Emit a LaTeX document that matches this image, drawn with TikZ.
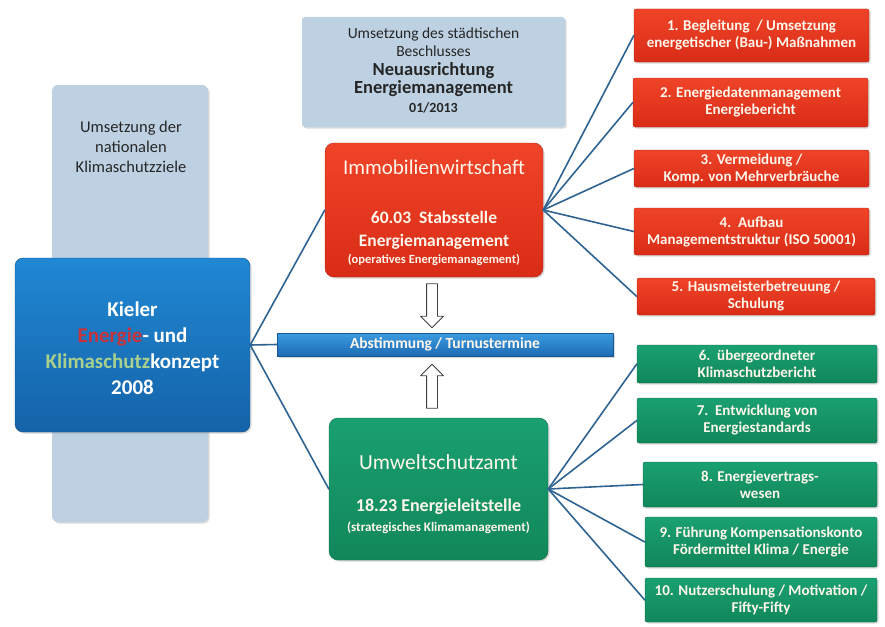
\documentclass[tikz,border=0pt]{standalone}
\usepackage{fontspec}
\setmainfont{Carlito}
\usetikzlibrary{shadows,positioning,shapes.arrows,calc}
\definecolor{redtop}{HTML}{EF4428}
\definecolor{redbot}{HTML}{D92C17}
\definecolor{redline}{HTML}{B52516}
\definecolor{greentop}{HTML}{1AA071}
\definecolor{greenbot}{HTML}{11875A}
\definecolor{greenline}{HTML}{0F7048}
\definecolor{bluetop}{HTML}{2088D4}
\definecolor{bluebot}{HTML}{1563A8}
\definecolor{paleblue}{HTML}{BDD1E3}
\definecolor{bartop}{HTML}{3C9BE0}
\definecolor{barbot}{HTML}{1D6CB5}
\definecolor{linkblue}{HTML}{2E6392}
\definecolor{energred}{HTML}{C8323A}
\definecolor{klimagreen}{HTML}{A9D18E}
\definecolor{cream}{HTML}{FFF6EC}

\begin{document}
\begin{tikzpicture}[x=1pt,y=-1pt,line cap=round,line join=round,
  boxshadow/.style={drop shadow={opacity=0.3,shadow xshift=1.5pt,shadow yshift=-1.5pt}},
  redtask/.style={rectangle,rounded corners=2pt,draw=redline,top color=redtop,bottom color=redbot,text=cream,
    font=\bfseries\fontsize{15}{17}\selectfont,align=center,inner sep=0pt,minimum width=235pt,boxshadow},
  greentask/.style={rectangle,rounded corners=2pt,draw=greenline,top color=greentop,bottom color=greenbot,text=cream,
    font=\bfseries\fontsize{15}{17}\selectfont,align=center,inner sep=0pt,minimum width=235pt,boxshadow},
  palebox/.style={rectangle,rounded corners=6pt,fill=paleblue,inner sep=0pt,boxshadow},
  link/.style={draw=linkblue,line width=1.6pt},
  hollow/.style={single arrow,draw=black!75,fill=white,line width=0.8pt,inner sep=5pt,
    single arrow head extend=6pt,single arrow head indent=0pt,minimum height=44pt}]
\useasboundingbox (0,0) rectangle (885,626);

\node[palebox,minimum width=156pt,minimum height=437pt] (national) at (130,303.5) {};
\node[align=center,font=\fontsize{16.5}{20}\selectfont,text=black!85] (nattext) at (131,147) {Umsetzung der\\nationalen\\Klimaschutzziele};

\node[palebox,minimum width=263pt,minimum height=110pt,rounded corners=3pt] (beschluss) at (433.5,72)
  {};
\node[align=center,font=\fontsize{15.5}{18.5}\selectfont,text=black!85] (beschlusstext) at (433.5,70)
  {Umsetzung des städtischen\\Beschlusses\\{\bfseries\fontsize{18.5}{18.5}\selectfont Neuausrichtung}\\{\bfseries\fontsize{18.5}{18.5}\selectfont Energiemanagement}\\{\bfseries\fontsize{14}{18.5}\selectfont 01/2013}};

\node[rectangle,rounded corners=8pt,draw=bluebot!80!black,top color=bluetop,bottom color=bluebot,boxshadow,
  minimum width=235pt,minimum height=174pt,align=center,text=white,
  font=\bfseries\fontsize{21}{26}\selectfont] (konzept) at (132.5,345)
  {\rule{0pt}{22pt}Kieler\\\textcolor{energred}{Energie}- und\\\textcolor{klimagreen}{Klimaschutz}konzept\\2008};

\node[rectangle,rounded corners=9pt,draw=redline,top color=redtop,bottom color=redbot,boxshadow,
  minimum width=218pt,minimum height=134pt,align=center,text=cream,
  font=\bfseries\fontsize{17.5}{23}\selectfont] (immo) at (434,210)
  {{\mdseries\fontsize{21}{23}\selectfont\rule{0pt}{20pt}Immobilienwirtschaft}\\[26pt]60.03~~Stabsstelle\\Energiemanagement\\[-6pt]{\fontsize{12.5}{12}\selectfont(operatives Energiemanagement)}};

\node[rectangle,draw=barbot!80!black,top color=bartop,bottom color=barbot,boxshadow,
  minimum width=336pt,minimum height=23pt,inner sep=0pt,text=cream,
  font=\bfseries\fontsize{15.5}{17}\selectfont] (abstimmung) at (445,344.5) {Abstimmung / Turnustermine};

\node[rectangle,rounded corners=9pt,draw=greenline,top color=greentop,bottom color=greenbot,boxshadow,
  minimum width=219pt,minimum height=142pt,align=center,text=cream,
  font=\bfseries\fontsize{18}{20}\selectfont] (umwelt) at (438.5,489)
  {{\mdseries\fontsize{21.5}{20}\selectfont\rule{0pt}{26pt}Umweltschutzamt}\\[22pt]18.23 Energieleitstelle\\{\fontsize{13}{12}\selectfont(strategisches Klimamanagement)}};

\node[hollow,rotate=-90] (down) at (432,303) {};
\node[hollow,rotate=90] (up) at (432,389) {};

\node[redtask,minimum height=53pt] (r1) at (751.5,35.5) {1. Begleitung~~/ Umsetzung\\energetischer (Bau-) Maßnahmen};
\node[redtask,minimum height=49pt] (r2) at (750.5,102.5) {2. Energiedatenmanagement\\Energiebericht};
\node[redtask,minimum height=37pt] (r3) at (751.5,168.5) {3. Vermeidung /\\Komp. von Mehrverbräuche};
\node[redtask,minimum height=47pt] (r4) at (751.5,231.5) {4.~~Aufbau\\Managementstruktur (ISO 50001)};
\node[redtask,minimum height=37pt,minimum width=238pt] (r5) at (756,296.5) {5. Hausmeisterbetreuung /\\Schulung};

\node[greentask,minimum height=38pt,minimum width=240pt] (g6) at (757,364) {6.~~übergeordneter\\Klimaschutzbericht};
\node[greentask,minimum height=45pt,minimum width=240pt] (g7) at (757,420.5) {7.~~Entwicklung von\\Energiestandards};
\node[greentask,minimum height=45pt,minimum width=234pt] (g8) at (760,484.5) {8. Energievertrags-\\wesen};
\node[greentask,minimum height=50pt,minimum width=232pt] (g9) at (761,542) {9. Führung Kompensationskonto\\Fördermittel Klima / Energie};
\node[greentask,minimum height=44pt,minimum width=232pt] (g10) at (761,600) {10. Nutzerschulung / Motivation /\\Fifty-Fifty};

\draw[link] (konzept.east) -- (immo.west);
\draw[link] (konzept.east) -- (abstimmung.west);
\draw[link] (konzept.east) -- (umwelt.west);
\draw[link] (immo.east) -- (r1.west);
\draw[link] (immo.east) -- (r2.west);
\draw[link] (immo.east) -- (r3.west);
\draw[link] (immo.east) -- (r4.west);
\draw[link] (immo.east) -- (r5.west);
\draw[link] (umwelt.east) -- (g6.west);
\draw[link] (umwelt.east) -- (g7.west);
\draw[link] (umwelt.east) -- (g8.west);
\draw[link] (umwelt.east) -- (g9.west);
\draw[link] (umwelt.east) -- (g10.west);
\end{tikzpicture}
\end{document}
